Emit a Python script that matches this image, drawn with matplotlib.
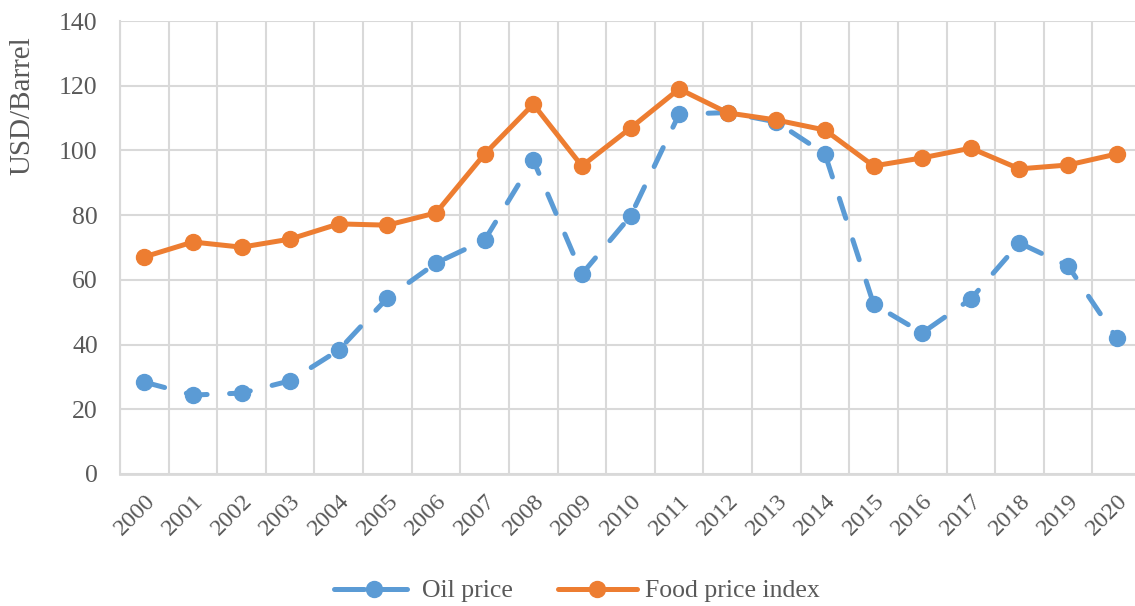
import matplotlib
matplotlib.use("Agg")
import matplotlib.pyplot as plt
from matplotlib.ticker import MultipleLocator
from matplotlib.lines import Line2D

years = [str(y) for y in range(2000, 2021)]
oil_price = [28.4, 24.4, 25.0, 28.8, 38.3, 54.4, 65.2, 72.3, 97.0, 61.8, 79.7,
             111.2, 111.7, 108.8, 98.9, 52.5, 43.6, 54.1, 71.4, 64.3, 42.0]
food_index = [67.1, 71.7, 70.1, 72.6, 77.3, 76.9, 80.7, 98.9, 114.3, 95.2, 106.9,
              119.0, 111.6, 109.4, 106.3, 95.2, 97.7, 100.7, 94.3, 95.5, 98.9]

plt.rcParams['font.family'] = ['Liberation Serif', 'DejaVu Serif']
txt = '#595959'
grid = '#D9D9D9'
blue = '#5B9BD5'
orange = '#ED7D31'

W, H = 1135, 606
fig = plt.figure(figsize=(W / 100, H / 100), dpi=100)
left, right, top, bottom = 120, 1141, 21, 474
ax = fig.add_axes([left / W, 1 - bottom / H, (right - left) / W, (bottom - top) / H])

x = list(range(len(years)))
ax.plot(x, oil_price, color=blue, lw=3.6, ls=(0, (4.2, 4.5)), marker='o',
        markersize=11.5, label='Oil price', zorder=3, dash_capstyle='round')
ax.plot(x, food_index, color=orange, lw=3.6, marker='o', markersize=11.5,
        label='Food price index', zorder=4)

ax.set_xlim(-0.5, len(years) - 0.5)
ax.set_ylim(0, 140)
ax.yaxis.set_major_locator(MultipleLocator(20))
ax.set_xticks(x)
ax.set_xticklabels(years, rotation=45, ha='right', va='top', rotation_mode='anchor',
                   fontsize=17.5, color=txt)
ax.set_xticks([i - 0.5 for i in range(len(years) + 1)], minor=True)
ax.tick_params(axis='x', which='both', length=0, pad=12)
ax.tick_params(axis='y', length=0, labelsize=18.5, labelcolor=txt, pad=16)
ax.grid(True, which='minor', axis='x', color=grid, lw=1.5)
ax.grid(True, which='major', axis='y', color=grid, lw=1.5)
ax.set_axisbelow(True)
for s in ['top', 'right']:
    ax.spines[s].set_visible(False)
ax.spines['left'].set_color(grid)
ax.spines['left'].set_linewidth(1.5)
ax.spines['bottom'].set_color(grid)
ax.spines['bottom'].set_linewidth(2)

fig.text(22 / W, 1 - 106 / H, 'USD/Barrel', rotation=90, ha='center', va='center',
         fontsize=21, color=txt)

handles = [
    Line2D([], [], color=blue, lw=3.6, ls=(0, (6.0, 2.6)), dash_capstyle='round',
           marker='o', markersize=11.5),
    Line2D([], [], color=orange, lw=3.6, solid_capstyle='round', marker='o',
           markersize=11.5),
]
fig.legend(handles, ['Oil price', 'Food price index'], loc='center',
           bbox_to_anchor=(577 / W, 1 - 591 / H), ncol=2, frameon=False,
           fontsize=18.5, labelcolor=txt, handlelength=3.1, columnspacing=1.75,
           handletextpad=0.3)

fig.savefig('out.png', dpi=100)
